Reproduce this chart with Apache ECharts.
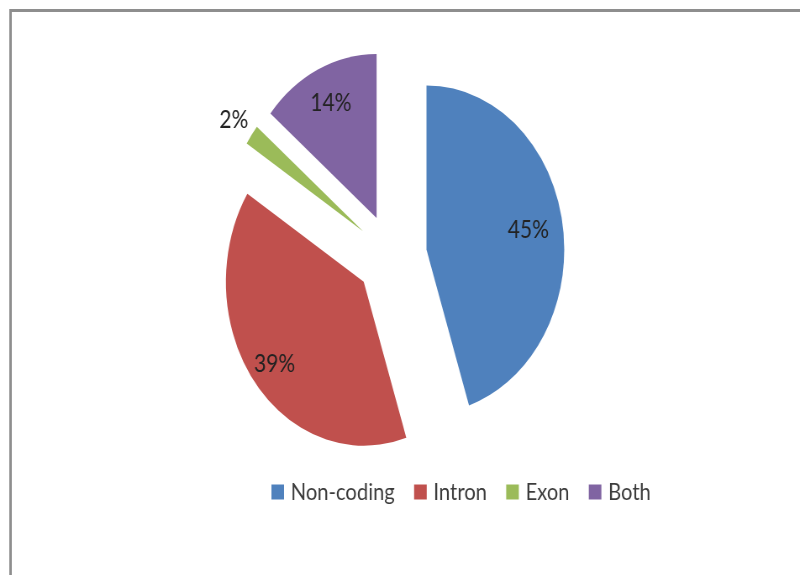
<!DOCTYPE html>
<html>
<head>
<meta charset="utf-8">
<script src="https://cdn.jsdelivr.net/npm/echarts@6/dist/echarts.min.js"></script>
<style>
  html, body { margin: 0; padding: 0; width: 800px; height: 575px; overflow: hidden; background: #fff; }
  /* the chart is laid out wide and squeezed horizontally into the page */
  #chart { width: 952px; height: 575px; transform: scaleX(0.8403); transform-origin: 0 0; }
</style>
</head>
<body>
<div id="chart"></div>
<script>
// Share of regions by genomic location
const categories = ['Non-coding', 'Intron', 'Exon', 'Both'];
const values = [45, 39, 2, 14];

// styling
const colors = ['#4F81BD', '#C0504D', '#9BBB59', '#8064A2'];
const labelRadius = [0.73, 0.80, 1.14, 0.76];   // label distance from slice tip, as a fraction of the radius
const PIE_R = 164;
const PIE_CENTER = [466, 256];
const EXPLODE = 42;
const FONT = 'Lato, "Open Sans", sans-serif';

const total = values.reduce((a, b) => a + b, 0);
function midAngle(i) {
  let before = 0;
  for (let k = 0; k < i; k++) before += values[k];
  return (before + values[i] / 2) / total * 2 * Math.PI;
}

const chart = echarts.init(document.getElementById('chart'), null, { renderer: 'canvas' });

chart.setOption({
  animation: false,
  backgroundColor: '#ffffff',
  graphic: [{
    type: 'rect',
    silent: true,
    shape: { x: 12.5, y: 10.5, width: 3000, height: 3000 },
    style: { fill: 'none', stroke: '#8e8e8e', lineWidth: 3 }
  }],
  legend: {
    left: 318,
    top: 475,
    orient: 'horizontal',
    icon: 'rect',
    itemWidth: 15,
    itemHeight: 15,
    itemGap: 23,
    selectedMode: false,
    data: categories,
    textStyle: { fontFamily: FONT, fontSize: 24, color: '#3c3c3c', padding: [0, 0, 0, 3] }
  },
  series: [{
    type: 'pie',
    center: PIE_CENTER,
    radius: PIE_R,
    startAngle: 90,
    clockwise: true,
    selectedMode: 'multiple',
    selectedOffset: EXPLODE,
    avoidLabelOverlap: false,
    emphasis: { disabled: true },
    labelLine: { show: false },
    label: {
      show: true,
      position: 'inside',
      fontFamily: FONT,
      fontSize: 25,
      color: '#222222',
      formatter: p => Math.round(p.percent) + '%'
    },
    labelLayout: p => {
      const a = midAngle(p.dataIndex);
      const shift = (labelRadius[p.dataIndex] - 0.5) * PIE_R;
      return { dx: shift * Math.sin(a), dy: -shift * Math.cos(a) };
    },
    data: categories.map((name, i) => ({
      name: name,
      value: values[i],
      selected: true,
      itemStyle: { color: colors[i] }
    }))
  }]
});
</script>
</body>
</html>
